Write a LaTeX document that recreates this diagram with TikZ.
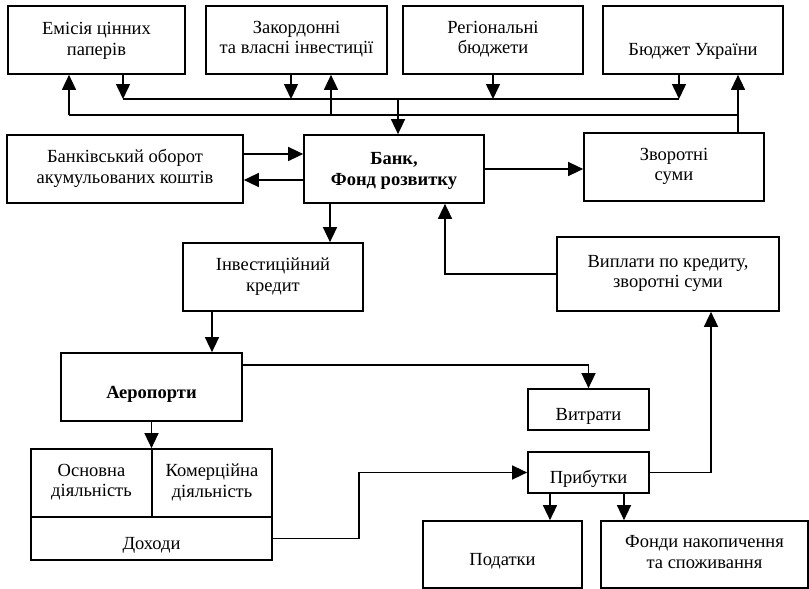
\documentclass[tikz,border=0pt]{standalone}
\usepackage{fontspec}
\setmainfont{Liberation Serif}
\usetikzlibrary{arrows.meta}
\begin{document}
\begin{tikzpicture}[x=1pt,y=-1pt,
  th/.store in=\boxtop, th=27pt,
  box/.style={draw, line width=1.7pt, inner sep=0pt, align=center,
    font=\fontsize{18.5}{20.5}\selectfont,
    execute at begin node={\rule{0pt}{\boxtop}},
    execute at end node={\rule[-5pt]{0pt}{5pt}}},
  arr/.style={line width=1.5pt, -{Triangle[length=15pt,width=14pt]}},
  ln/.style={line width=1.5pt}]
\useasboundingbox (0,0) rectangle (809,589);
% top row
\node[box, th=35pt, minimum width=177pt, minimum height=68pt] (em) at (96.5,40) {Емісія цінних\\паперів};
\node[box, th=31pt, minimum width=181pt, minimum height=68pt] (zak) at (296.5,40) {Закордонні\\та власні інвестиції};
\node[box, th=29pt, minimum width=180pt, minimum height=68pt] (reg) at (493,40) {Регіональні\\бюджети};
\node[box, th=35pt, minimum width=180pt, minimum height=68pt] (bud) at (693,40) {Бюджет України};
% middle
\node[box, minimum width=236pt, minimum height=68pt] (bo) at (125,169) {Банківський оборот\\акумульованих коштів};
\node[box, th=37pt, minimum width=180pt, minimum height=68pt] (bank) at (394,169) {\bfseries Банк,\\\bfseries Фонд розвитку};
\node[box, minimum width=180pt, minimum height=68pt] (zv) at (674,167) {Зворотні\\суми};
\node[box, minimum width=180pt, minimum height=68pt] (inv) at (273,277) {Інвестиційний\\кредит};
\node[box, minimum width=222pt, minimum height=74pt] (vyp) at (668,274) {Виплати по кредиту,\\зворотні суми};
% lower
\node[box, minimum width=181pt, minimum height=68pt] (aer) at (151.5,387) {\bfseries Аеропорти};
\node[box, minimum width=121pt, minimum height=41pt] (vyt) at (588.5,409.5) {Витрати};
\node[box, minimum width=121pt, minimum height=41pt] (prib) at (588.5,472.5) {Прибутки};
\node[box, minimum width=159pt, minimum height=67pt] (pod) at (502.5,554.5) {Податки};
\node[box, minimum width=207pt, minimum height=67pt] (fon) at (704.5,554.5) {Фонди накопичення\\та споживання};
\node[box, minimum width=121pt, minimum height=68pt] (osn) at (91.5,483) {Основна\\діяльність};
\node[box, minimum width=120pt, minimum height=68pt] (kom) at (212,483) {Комерційна\\діяльність};
\node[box, minimum width=241pt, minimum height=43pt] (doh) at (151.5,538.5) {Доходи};
% bus coordinates
\coordinate (a1) at (123,99);
\coordinate (a2) at (291,99);
\coordinate (a3) at (493,99);
\coordinate (a4) at (398,99);
\coordinate (a5) at (679,99);
\coordinate (b1) at (69,115);
\coordinate (b2) at (331,115);
\coordinate (b4) at (738,115);
\coordinate (c1) at (330,0);
\coordinate (c2) at (212,0);
\coordinate (c3) at (445,0);
\coordinate (c4) at (711,0);
\coordinate (c5) at (550,0);
\coordinate (c6) at (624,0);
\coordinate (d1) at (359,472.5);
% bus A: sources to bank
\draw[ln] (a1) -- (a5);
\draw[arr] (em.south -| a1) -- (a1);
\draw[arr] (zak.south -| a2) -- (a2);
\draw[arr] (reg.south -| a3) -- (a3);
\draw[arr] (bud.south -| a5) -- (a5);
\draw[arr] (a4) -- (bank.north -| a4);
% bus B: returns to sources
\draw[arr] (zv.north -| b4) -- (bud.south -| b4);
\draw[ln] (b4) -- (b1);
\draw[arr] (b1) -- (em.south -| b1);
\draw[arr] (b2) -- (zak.south -| b2);
% bank links
\draw[arr] ([yshift=15pt]bo.east) -- ([yshift=15pt]bo.east -| bank.west);
\draw[arr] ([yshift=-11pt]bank.west) -- ([yshift=-11pt]bank.west -| bo.east);
\draw[arr] (bank.east) -- (bank.east -| zv.west);
\draw[arr] (bank.south -| c1) -- (inv.north -| c1);
\draw[arr] (vyp.west) -| (bank.south -| c3);
% lower flows
\draw[arr] (inv.south -| c2) -- (aer.north -| c2);
\draw[arr] ([yshift=22pt]aer.east) -| (vyt.north);
\draw[arr] (aer.south) -- (aer.south |- osn.north);
\draw[arr] (doh.east) -| (d1) -- (prib.west);
\draw[arr] (prib.east) -| (vyp.south -| c4);
\draw[arr] (prib.south -| c5) -- (pod.north -| c5);
\draw[arr] (prib.south -| c6) -- (fon.north -| c6);
\end{tikzpicture}
\end{document}
